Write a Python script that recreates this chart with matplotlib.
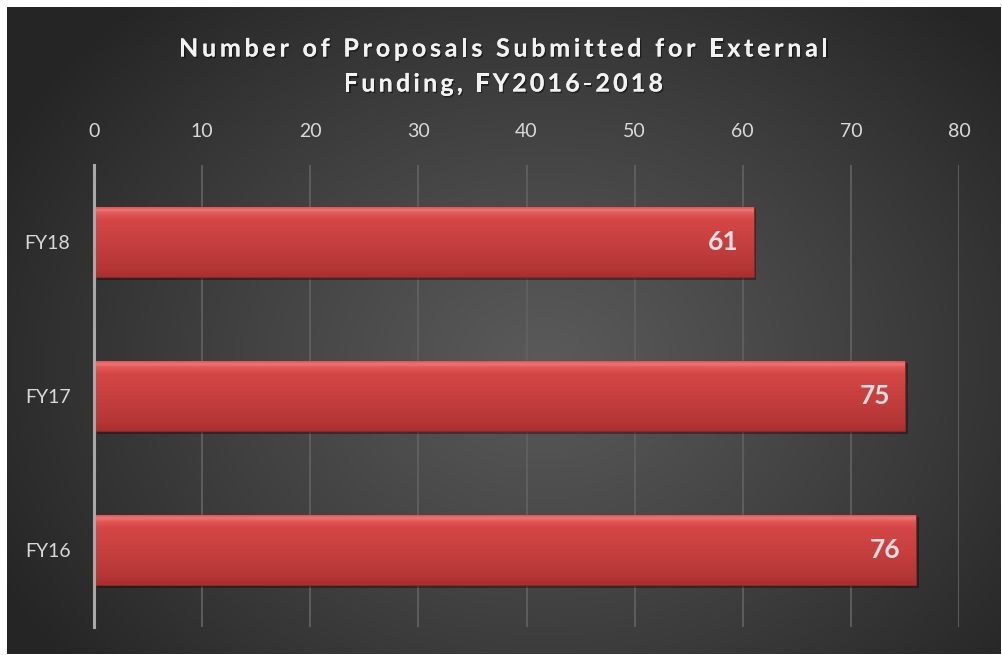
import numpy as np
import matplotlib
matplotlib.use('Agg')
import matplotlib.pyplot as plt
from matplotlib.colors import LinearSegmentedColormap
import matplotlib.patheffects as pe
from matplotlib.font_manager import FontProperties

categories = ['FY16', 'FY17', 'FY18']
values = [76, 75, 61]
xticks = [0, 10, 20, 30, 40, 50, 60, 70, 80]
title_lines = ['Number of Proposals Submitted for External', 'Funding, FY2016-2018']

W, H = 1002, 655
fig = plt.figure(figsize=(W / 100, H / 100), dpi=100)
fig.patch.set_facecolor('white')

# background radial gradient
bg = fig.add_axes([7 / W, 1 / H, 994 / W, 647 / H])
bg.set_axis_off()
ny, nx = 400, 600
yy, xx = np.mgrid[0:ny, 0:nx]
cx, cy = nx * 0.54, ny * 0.55
r = np.sqrt(((xx - cx) / (nx * 0.62)) ** 2 + ((yy - cy) / (ny * 0.75)) ** 2)
r = np.clip(r, 0, 1)
val = 0x5a - (0x5a - 0x25) * r ** 1.1
img = np.dstack([val, val, val]) / 255.0
bg.imshow(img, aspect='auto', extent=[0, 1, 0, 1], interpolation='bilinear')
bg.set_xlim(0, 1)
bg.set_ylim(0, 1)

ax = fig.add_axes([94 / W, 28 / H, 865 / W, 462 / H])
ax.patch.set_alpha(0)

ypos = np.arange(len(categories))
bars = ax.barh(ypos, values, height=0.46, color='#cf4343', zorder=3,
               edgecolor='#8e2424', linewidth=0.8)
for b in bars:
    b.set_path_effects([pe.withSimplePatchShadow(offset=(2, -2), shadow_rgbFace='black', alpha=0.35),
                        pe.Normal()])

cmap = LinearSegmentedColormap.from_list('bar', [
    (0.0, '#a83030'), (0.12, '#b53636'), (0.45, '#c63e3e'),
    (0.8, '#d44646'), (0.9, '#e05656'), (0.95, '#ef7575'), (1.0, '#d65050')])
grad = np.linspace(1, 0, 100).reshape(-1, 1)
for b in bars:
    x0, y0 = b.get_x(), b.get_y()
    w, h = b.get_width(), b.get_height()
    im = ax.imshow(grad, extent=[x0, x0 + w, y0, y0 + h], aspect='auto', cmap=cmap,
                   vmin=0, vmax=1, zorder=3.5, interpolation='bilinear')
    im.set_clip_path(b)

for i, v in enumerate(values):
    ax.text(v - 1.4, ypos[i], str(v), ha='right', va='center', fontsize=19,
            fontweight='bold', color='#e0e0e0', family='Lato', zorder=5)

ax.set_xlim(0, 80)
ax.set_ylim(-0.5, 2.5)
ax.set_xticks(xticks)
ax.set_yticks(ypos)
ax.set_yticklabels(categories)
ax.xaxis.tick_top()
ax.grid(axis='x', color='#606060', linewidth=1.3, zorder=0)
ax.set_axisbelow(True)
ax.tick_params(axis='x', length=0, pad=18, labelsize=14, labelcolor='#d9d9d9')
ax.tick_params(axis='y', length=0, pad=17, labelsize=14, labelcolor='#d9d9d9')
for lab in ax.get_xticklabels() + ax.get_yticklabels():
    lab.set_family('Lato')
for s in ['top', 'right', 'bottom']:
    ax.spines[s].set_visible(False)
ax.spines['left'].set_color('#a8a8a8')
ax.spines['left'].set_linewidth(2.2)
ax.spines['left'].set_zorder(4)

# letter-spaced title
renderer = fig.canvas.get_renderer()
prop = FontProperties(family='Lato', weight='bold', size=18)
def tw(s):
    w, h, d = renderer.get_text_width_height_descent(s + 'l', prop, ismath=False)
    w2, _, _ = renderer.get_text_width_height_descent('l', prop, ismath=False)
    return w - w2
targets = [649, 319]
centers_y = [47, 82]
cx_px = 503.5
for line, target, ypx in zip(title_lines, targets, centers_y):
    n = len(line)
    base = tw(line)
    sp = (target - base) / (n - 1)
    start = cx_px - target / 2
    for i, ch in enumerate(line):
        if ch == ' ':
            continue
        x = start + tw(line[:i]) + i * sp
        t = fig.text(x / W, 1 - ypx / H, ch, fontproperties=prop, color='#f2f2f2',
                     ha='left', va='center_baseline')
        t.set_path_effects([pe.withSimplePatchShadow(offset=(1, -1.2), shadow_rgbFace='black', alpha=0.45),
                            pe.Normal()])

fig.savefig('out.png', dpi=100, facecolor=fig.get_facecolor())
